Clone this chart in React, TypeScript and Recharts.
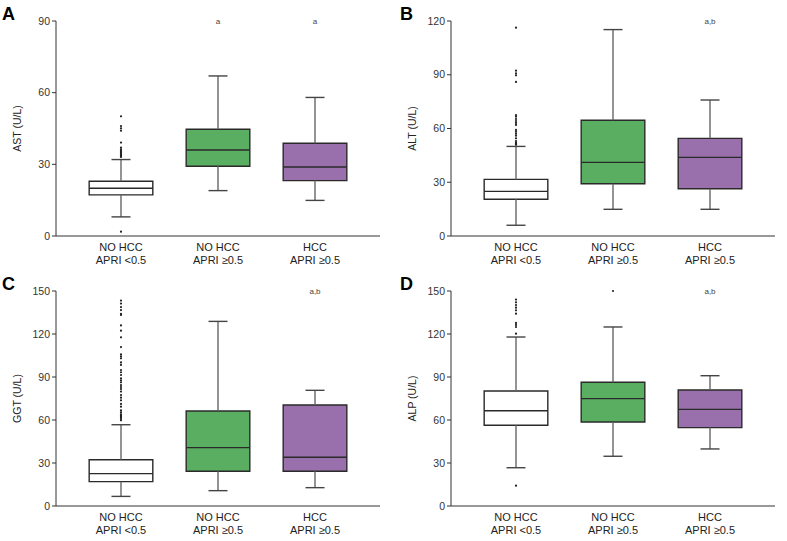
import React from 'react'
import {
  ComposedChart,
  XAxis,
  YAxis,
  ReferenceArea,
  ReferenceLine,
  ReferenceDot,
  Scatter,
} from 'recharts'

const FONT = '"Liberation Sans", Arial, sans-serif'

// categories (two label lines) and box fills
const groupLine1 = ['NO HCC', 'NO HCC', 'HCC']
const groupLine2 = ['APRI <0.5', 'APRI ≥0.5', 'APRI ≥0.5']
const groupFills = ['#ffffff', '#5aae61', '#9970ab']

// per group: [low whisker, Q1, median, Q3, high whisker]
const astBoxes = [
  [8, 17.2, 20, 22.9, 32],
  [19, 29.2, 36, 44.7, 67],
  [14.9, 23.2, 28.9, 38.8, 58],
]
const altBoxes = [
  [6, 20.5, 24.9, 31.6, 50],
  [14.9, 29.2, 41.1, 64.6, 115.2],
  [14.9, 26.4, 43.9, 54.5, 75.9],
]
const ggtBoxes = [
  [6.7, 17, 22.6, 32.3, 56.7],
  [10.7, 24.2, 40.7, 66.3, 128.8],
  [12.8, 24.2, 34, 70.5, 80.7],
]
const alpBoxes = [
  [26.7, 56.3, 66.5, 80.2, 117.9],
  [34.7, 58.6, 74.9, 86.3, 124.9],
  [39.8, 54.7, 67.4, 80.9, 90.9],
]

// outliers per group
const astOutliers = [
  [1.8, 33.1, 33.5, 33.9, 34.3, 34.7, 35.2, 35.6, 36.3, 37, 39.1, 44.1, 45.1, 46, 50.1],
  [],
  [],
]
const altOutliers = [
  [51, 51.3, 51.5, 52.1, 53, 54.5, 56, 57.1, 58.2, 59.2, 62, 63.1, 64.2, 65.3, 66.6, 67.5, 86, 89.7, 90.8, 92.3, 116.3],
  [],
  [],
]
const ggtOutliers = [
  [
    59.8, 60.7, 61.5, 62.3, 63.2, 64, 65.3, 66.7, 69.3, 71.2, 73.7, 75.6, 77.4, 79.8, 81.6, 83, 84.4, 86.3, 87.7,
    89.1, 91.4, 93.3, 94.9, 98.4, 100.2, 103, 104.4, 105.8, 110.9, 117.7, 122.3, 126, 133.3, 134, 136.7, 138.8,
    141.2, 143.3,
  ],
  [],
  [],
]
const alpOutliers = [
  [14.2, 120.2, 124.9, 126.3, 127.7, 134.2, 136.5, 138.4, 140.2, 142.1, 144],
  [150],
  [],
]

// significance marks above each group
const astMarks = ['', 'a', 'a']
const altMarks = ['', '', 'a,b']
const ggtMarks = ['', '', 'a,b']
const alpMarks = ['', '', 'a,b']

const astTicks = [0, 30, 60, 90]
const altTicks = [0, 30, 60, 90, 120]
const ggtTicks = [0, 30, 60, 90, 120, 150]
const alpTicks = [0, 30, 60, 90, 120, 150]

const BOX_HALF = 0.328
const CAP_HALF = 0.098

const CategoryTick = ({ x, y, payload }: any) => {
  const i = Math.round(payload.value) - 1
  return (
    <g>
      <text x={x} y={y + 14.5} textAnchor="middle" fontSize={11} fill="#222" fontFamily={FONT}>
        {groupLine1[i]}
      </text>
      <text x={x} y={y + 27.5} textAnchor="middle" fontSize={11} fill="#222" fontFamily={FONT}>
        {groupLine2[i]}
      </text>
    </g>
  )
}

interface PanelProps {
  letter: string
  letterX: number
  yLabel: string
  boxes: number[][]
  outliers: number[][]
  marks: string[]
  ticks: number[]
}

function Panel({ letter, letterX, yLabel, boxes, outliers, marks, ticks }: PanelProps) {
  const yMax = ticks[ticks.length - 1]
  const points = outliers.flatMap((vals, g) => vals.map((v) => ({ x: g + 1, y: v })))

  return (
    <ComposedChart width={393} height={270} margin={{ top: 21, right: 13, bottom: 4, left: 16 }}>
      <text x={letterX} y={20} fontSize={18} fontWeight="bold" fill="#000" fontFamily={FONT}>
        {letter}
      </text>
      <text
        x={21}
        y={128.5}
        transform={`rotate(-90 21 128.5)`}
        textAnchor="middle"
        fontSize={10.5}
        fill="#222"
        fontFamily={FONT}
      >
        {yLabel}
      </text>
      <XAxis
        type="number"
        dataKey="x"
        domain={[0.33, 3.67]}
        ticks={[1, 2, 3]}
        allowDataOverflow
        height={30}
        tickLine={false}
        tickSize={0}
        tickMargin={0}
        axisLine={{ stroke: '#333', strokeWidth: 1 }}
        tick={<CategoryTick />}
      />
      <YAxis
        type="number"
        dataKey="y"
        domain={[0, yMax]}
        ticks={ticks}
        width={40}
        tickSize={4}
        tickMargin={2}
        axisLine={{ stroke: '#333', strokeWidth: 1 }}
        tickLine={{ stroke: '#333' }}
        tick={{ fontSize: 10.5, fill: '#333', fontFamily: FONT }}
      />
      {boxes.map((b, i) => (
        <ReferenceLine
          key={`wu${i}`}
          segment={[{ x: i + 1, y: b[3] }, { x: i + 1, y: b[4] }]}
          stroke="#666"
          strokeWidth={1.4}
        />
      ))}
      {boxes.map((b, i) => (
        <ReferenceLine
          key={`wl${i}`}
          segment={[{ x: i + 1, y: b[0] }, { x: i + 1, y: b[1] }]}
          stroke="#666"
          strokeWidth={1.4}
        />
      ))}
      {boxes.map((b, i) => (
        <ReferenceLine
          key={`ch${i}`}
          segment={[{ x: i + 1 - CAP_HALF, y: b[4] }, { x: i + 1 + CAP_HALF, y: b[4] }]}
          stroke="#444"
          strokeWidth={1.4}
        />
      ))}
      {boxes.map((b, i) => (
        <ReferenceLine
          key={`cl${i}`}
          segment={[{ x: i + 1 - CAP_HALF, y: b[0] }, { x: i + 1 + CAP_HALF, y: b[0] }]}
          stroke="#444"
          strokeWidth={1.4}
        />
      ))}
      {boxes.map((b, i) => (
        <ReferenceArea
          key={`box${i}`}
          x1={i + 1 - BOX_HALF}
          x2={i + 1 + BOX_HALF}
          y1={b[1]}
          y2={b[3]}
          fill={groupFills[i]}
          fillOpacity={1}
          stroke="#2a2a2a"
          strokeWidth={1.4}
        />
      ))}
      {boxes.map((b, i) => (
        <ReferenceLine
          key={`med${i}`}
          segment={[{ x: i + 1 - BOX_HALF, y: b[2] }, { x: i + 1 + BOX_HALF, y: b[2] }]}
          stroke="#2a2a2a"
          strokeWidth={1.4}
        />
      ))}
      {marks.map((m, i) =>
        m ? (
          <ReferenceDot
            key={`mk${i}`}
            x={i + 1}
            y={yMax}
            r={0}
            fill="none"
            stroke="none"
            label={{ value: m, position: 'center', fontSize: 8, fill: '#444', fontFamily: FONT }}
          />
        ) : null
      )}
      <Scatter
        data={points}
        dataKey="y"
        isAnimationActive={false}
        shape={(p: any) => <circle cx={p.cx} cy={p.cy} r={1.1} fill="#222" />}
      />
    </ComposedChart>
  )
}

export default function App() {
  return (
    <div style={{ position: 'absolute', left: 0, top: 0, width: 787, height: 541, background: '#fff' }}>
      <div style={{ position: 'absolute', left: 0, top: 0 }}>
        <Panel letter="A" letterX={2} yLabel="AST (U/L)" boxes={astBoxes} outliers={astOutliers} marks={astMarks} ticks={astTicks} />
      </div>
      <div style={{ position: 'absolute', left: 395, top: 0 }}>
        <Panel letter="B" letterX={5} yLabel="ALT (U/L)" boxes={altBoxes} outliers={altOutliers} marks={altMarks} ticks={altTicks} />
      </div>
      <div style={{ position: 'absolute', left: 0, top: 270 }}>
        <Panel letter="C" letterX={2} yLabel="GGT (U/L)" boxes={ggtBoxes} outliers={ggtOutliers} marks={ggtMarks} ticks={ggtTicks} />
      </div>
      <div style={{ position: 'absolute', left: 395, top: 270 }}>
        <Panel letter="D" letterX={5} yLabel="ALP (U/L)" boxes={alpBoxes} outliers={alpOutliers} marks={alpMarks} ticks={alpTicks} />
      </div>
    </div>
  )
}
